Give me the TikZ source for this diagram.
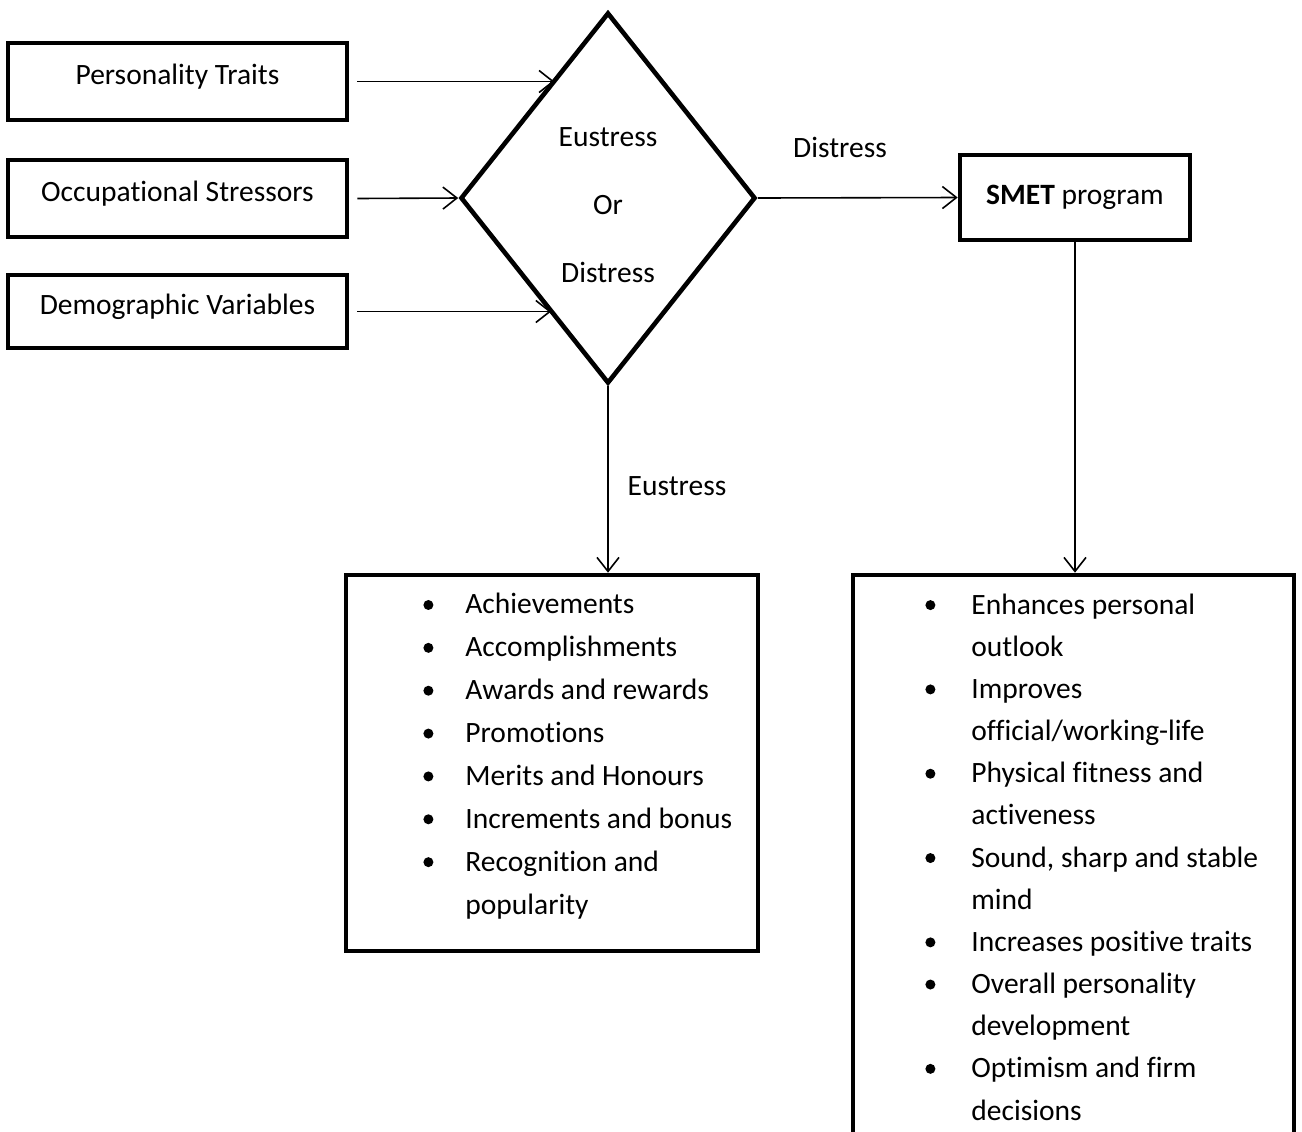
\documentclass[tikz,border=0pt]{standalone}
\usepackage{fontspec}
\setmainfont{Carlito}[Ligatures=NoCommon]
\usetikzlibrary{shapes.geometric,arrows.meta}
\newcommand{\bul}[1][16pt]{\llap{\tikz[baseline=-4.5pt]\fill (0,0) circle (2.5pt);\hspace{#1}}}
\begin{document}
\begin{tikzpicture}[>={Straight Barb[length=7pt,width=11pt]}, x=0.5pt, y=-0.5pt,
    font=\fontsize{14.75}{21.2}\selectfont,
    box/.style={draw, line width=2.3pt, inner sep=0pt},
    inbox/.style={box, minimum width=169.5pt, text height=10pt, text depth=7pt},
    list/.style={anchor=base west, align=left, inner sep=0pt},
    link/.style={->, line width=0.8pt}]
\useasboundingbox (0,0) rectangle (1302,1131);
\clip (0,0) rectangle (1302,1131);
% inputs
\node[inbox, minimum height=38.5pt] (pt) at (177.5,81.5) {Personality Traits};
\node[inbox, minimum height=38.5pt] (os) at (177.5,198.5) {Occupational Stressors};
\node[inbox, minimum height=36.5pt] (dv) at (177.5,311.5) {Demographic Variables};
% decision
\node[diamond, draw, line width=2.3pt, minimum width=147.5pt, minimum height=185.5pt, inner sep=0pt] (dia) at (608,198) {};
\node[align=center, font=\fontsize{14.75}{34}\selectfont, anchor=base, inner sep=0pt] (dt) at (608,282) {Eustress\\Or\\Distress};
\node[box, minimum width=115pt, minimum height=42.5pt] (smet) at (1075,197.5) {\textbf{SMET} program};
% outcome boxes
\node[box, minimum width=206pt, minimum height=188pt] (lb) at (552,763) {};
\node[box, minimum width=220.5pt, minimum height=290pt] (rb) at (1073.5,865) {};
\node[list, font=\fontsize{14.75}{21.43}\selectfont] (ll) at (465,914) {\bul Achievements\\ \bul Accomplishments\\ \bul Awards and rewards\\ \bul Promotions\\ \bul Merits and Honours\\ \bul Increments and bonus\\ \bul Recognition and\\ popularity};
\node[list, font=\fontsize{14.75}{21.08}\selectfont] (rl) at (971,1120) {\bul[18pt]Enhances personal\\ outlook\\ \bul[18pt]Improves\\ official/working-life\\ \bul[18pt]Physical fitness and\\ activeness\\ \bul[18pt]Sound, sharp and stable\\ mind\\ \bul[18pt]Increases positive traits\\ \bul[18pt]Overall personality\\ development\\ \bul[18pt]Optimism and firm\\ decisions};
% labels
\node (ld) at (840,147) {Distress};
\node (le) at (677,486) {Eustress};
% arrows
\draw[link] ([xshift=4pt]pt.east) -- (pt.east -| dia.114);
\draw[link] ([xshift=4pt]os.east) -- (dia.west);
\draw[link] ([xshift=4pt]dv.east) -- (dv.east -| dia.244);
\draw[link] (dia.east) -- (smet.west);
\draw[link] (dia.south) -- (dia.south |- lb.north);
\draw[link] (smet.south) -- (smet.south |- rb.north);
\end{tikzpicture}
\end{document}
